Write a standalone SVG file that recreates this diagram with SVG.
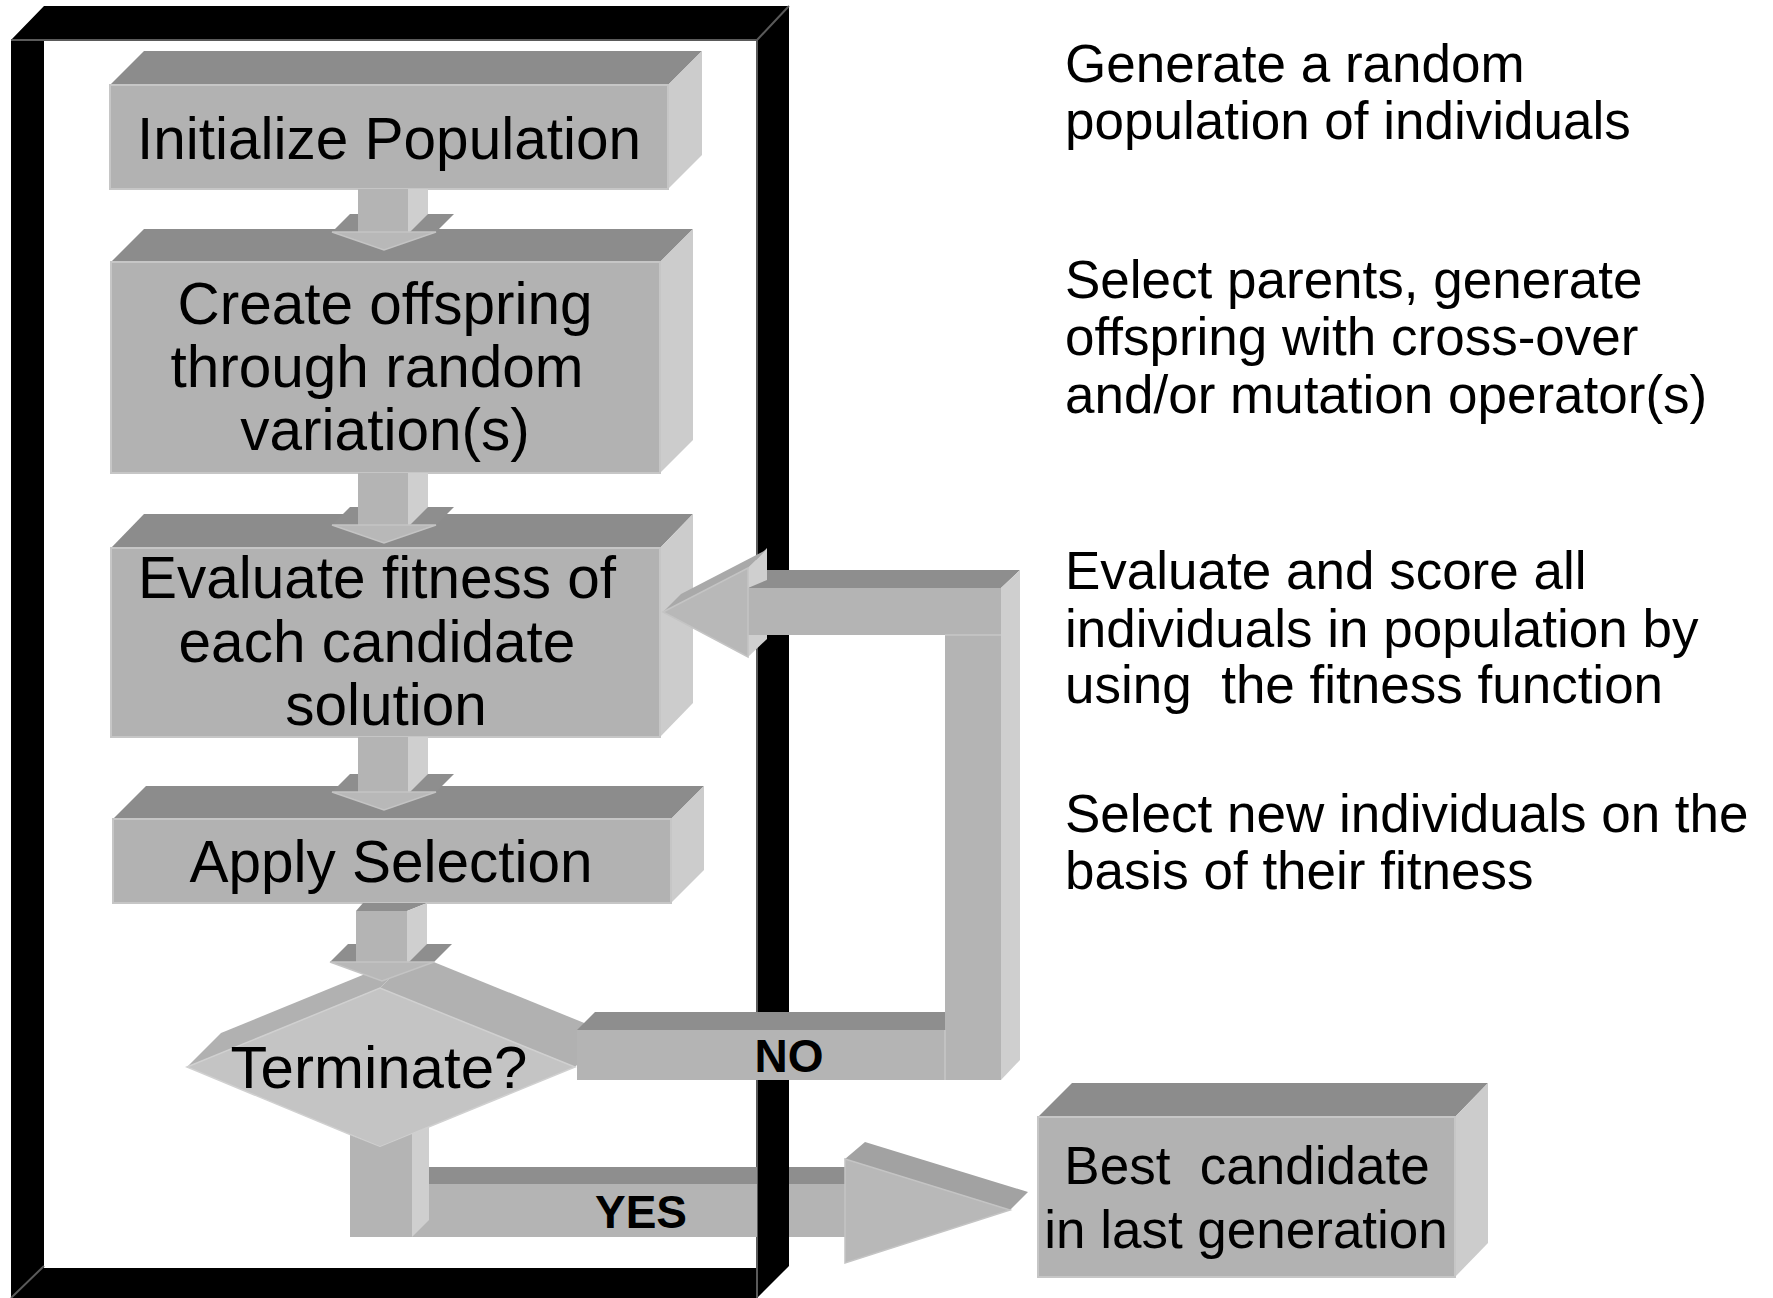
<svg xmlns="http://www.w3.org/2000/svg" width="1773" height="1298" viewBox="0 0 1773 1298">
  <style>
    .front { fill: #b2b2b2; stroke: #c6c6c6; stroke-width: 2; }
    .top { fill: #8c8c8c; }
    .side { fill: #cccccc; }
    .dfront { fill: #c4c4c4; stroke: #d0d0d0; stroke-width: 1.5; }
    .dtop { fill: #b1b1b1; }
    .afront { fill: #b4b4b4; }
    .ahead { fill: #b8b8b8; stroke: #c4c4c4; stroke-width: 1.5; }
    .atop { fill: #8e8e8e; }
    .aside { fill: #cfcfcf; }
    .seam { stroke: #c2c2c2; stroke-width: 2; fill: none; }
    .txt { font-family: "Liberation Sans", Arial, sans-serif; font-size: 58.5px; fill: #000; text-anchor: middle; }
    .lbl { font-family: "Liberation Sans", Arial, sans-serif; font-size: 46px; font-weight: bold; fill: #000; text-anchor: middle; }
    .note { font-family: "Liberation Sans", Arial, sans-serif; font-size: 53px; fill: #000; }
    .edge { stroke: #5a5a5a; stroke-width: 2; fill: none; }
  </style>

  <rect x="0" y="0" width="1773" height="1298" fill="#ffffff"/>

  <!-- black 3D frame around the loop -->
  <g id="frame">
    <path d="M11,40 L44,6 L789,6 L789,1266 L757,1298 L11,1298 Z M44,40 L44,1268 L757,1268 L757,40 Z" fill="#000000" fill-rule="evenodd"/>
    <path class="edge" d="M11,40 L757,40 L757,1298 M757,40 L789,6 M11,1298 L44,1266"/>
  </g>

  <!-- process nodes -->
  <g id="node-init">
    <polygon class="top" points="110,85 144,51 702,51 668,85"/>
    <polygon class="side" points="668,85 702,51 702,155 668,189"/>
    <rect class="front" x="110" y="85" width="558" height="104"/>
    <text class="txt" x="389" y="159">Initialize Population</text>
  </g>

  <g id="node-offspring">
    <polygon class="top" points="111,262 144,229 693,229 660,262"/>
    <polygon class="side" points="660,262 693,229 693,440 660,473"/>
    <rect class="front" x="111" y="262" width="549" height="211"/>
    <text class="txt" x="385" y="324">Create offspring</text>
    <text class="txt" x="377" y="387">through random</text>
    <text class="txt" x="385" y="450">variation(s)</text>
  </g>

  <g id="node-evaluate">
    <polygon class="top" points="111,548 144,514 693,514 660,548"/>
    <polygon class="side" points="660,548 693,514 693,703 660,737"/>
    <rect class="front" x="111" y="548" width="549" height="189"/>
    <text class="txt" x="377" y="598">Evaluate fitness of</text>
    <text class="txt" x="377" y="662">each candidate</text>
    <text class="txt" x="386" y="725">solution</text>
  </g>

  <g id="node-select">
    <polygon class="top" points="113,819 146,786 704,786 671,819"/>
    <polygon class="side" points="671,819 704,786 704,870 671,903"/>
    <rect class="front" x="113" y="819" width="558" height="84"/>
    <text class="txt" x="391" y="882">Apply Selection</text>
  </g>

  <g id="node-terminate">
    <polygon class="dtop" points="187,1067 221,1033 414,954 380,988"/>
    <polygon class="dtop" points="380,988 414,954 609,1033 575,1067"/>
    <polygon class="dfront" points="187,1067 380,988 575,1067 380,1147"/>
    <text class="txt" x="379" y="1088" style="font-size:60px">Terminate?</text>
  </g>

  <g id="node-best">
    <polygon class="top" points="1038,1117 1072,1083 1488,1083 1455,1117"/>
    <polygon class="side" points="1455,1117 1488,1083 1488,1243 1455,1277"/>
    <rect class="front" x="1038" y="1117" width="417" height="160"/>
    <text class="note" x="1247" y="1184" text-anchor="middle" xml:space="preserve">Best  candidate</text>
    <text class="note" x="1246" y="1248" text-anchor="middle">in last generation</text>
  </g>

  <!-- block arrows between the steps -->
  <g id="connectors">
    <!-- Initialize -> Create offspring -->
    <g id="arrow-1">
      <polygon class="atop" points="332,232 350,214 454,214 436,232"/>
      <polygon class="afront" points="358,189 408,189 408,232 358,232"/>
      <polygon class="aside" points="408,189 428,189 428,214 410,232 408,232"/>
      <polygon class="ahead" points="332,232 436,232 384,250"/>
    </g>
    <!-- Create offspring -> Evaluate -->
    <g id="arrow-2">
      <polygon class="atop" points="332,525 350,507 454,507 436,525"/>
      <polygon class="afront" points="358,473 408,473 408,525 358,525"/>
      <polygon class="aside" points="408,473 428,473 428,507 410,525 408,525"/>
      <polygon class="ahead" points="332,525 436,525 384,543"/>
    </g>
    <!-- Evaluate -> Apply Selection -->
    <g id="arrow-3">
      <polygon class="atop" points="332,792 350,774 454,774 436,792"/>
      <polygon class="afront" points="358,737 408,737 408,792 358,792"/>
      <polygon class="aside" points="408,737 428,737 428,774 410,792 408,792"/>
      <polygon class="ahead" points="332,792 436,792 384,810"/>
    </g>
    <!-- Apply Selection -> Terminate? -->
    <g id="arrow-4">
      <polygon class="atop" points="330,962 348,944 452,944 434,962"/>
      <polygon class="atop" points="356,911 363,903 427,903 407,911"/>
      <polygon class="afront" points="356,911 407,911 407,962 356,962"/>
      <polygon class="aside" points="407,911 427,903 427,944 409,962 407,962"/>
      <polygon class="ahead" points="330,962 434,962 382,981"/>
    </g>

    <!-- NO: loop back to Evaluate -->
    <g id="arrow-no">
      <polygon class="atop" points="577,1030 595,1012 945,1012 945,1030"/>
      <polygon class="atop" points="748,588 767,570 1020,570 1001,588"/>
      <polygon class="aside" points="1001,588 1020,570 1020,1060 1001,1080"/>
      <polygon class="afront" points="577,1030 945,1030 945,1080 577,1080"/>
      <polygon class="afront" points="748,588 1001,588 1001,635 748,635"/>
      <polygon class="afront" points="945,635 1001,635 1001,1080 945,1080"/>
      <path class="seam" d="M945,635 L1001,635 M945,1030 L945,1080"/>
      <polygon class="aside" points="748,568 767,548 767,580 748,588"/>
      <polygon class="aside" points="748,635 767,635 767,639 748,657"/>
      <polygon fill="#a9a9a9" points="663,612 748,568 766,550 681,594"/>
      <polygon class="ahead" points="663,612 748,568 748,657"/>
      <text class="lbl" x="789" y="1072">NO</text>
    </g>

    <!-- YES: exit to the best candidate -->
    <g id="arrow-yes">
      <polygon class="afront" points="350,1135 380,1147 412,1134 412,1237 350,1237"/>
      <polygon class="atop" points="429,1167 757,1167 757,1184 429,1184"/>
      <polygon class="afront" points="412,1184 757,1184 757,1237 412,1237"/>
      <polygon class="aside" points="412,1134 429,1127 429,1220 412,1237"/>
      <polygon class="atop" points="789,1167 845,1167 845,1184 789,1184"/>
      <polygon class="afront" points="789,1184 845,1184 845,1237 789,1237"/>
      <polygon fill="#a2a2a2" points="845,1159 865,1142 1028,1192 1010,1210"/>
      <polygon class="ahead" points="845,1159 1010,1210 845,1263"/>
      <text class="lbl" x="641" y="1228">YES</text>
    </g>
  </g>

  <!-- explanatory notes -->
  <g id="notes">
    <text class="note" x="1065" y="82">Generate a random</text>
    <text class="note" x="1065" y="139">population of individuals</text>
    <text class="note" x="1065" y="298">Select parents, generate</text>
    <text class="note" x="1065" y="355">offspring with cross-over</text>
    <text class="note" x="1065" y="413">and/or mutation operator(s)</text>
    <text class="note" x="1065" y="589">Evaluate and score all</text>
    <text class="note" x="1065" y="647">individuals in population by</text>
    <text class="note" x="1065" y="703" xml:space="preserve">using  the fitness function</text>
    <text class="note" x="1065" y="832">Select new individuals on the</text>
    <text class="note" x="1065" y="889">basis of their fitness</text>
  </g>
</svg>
